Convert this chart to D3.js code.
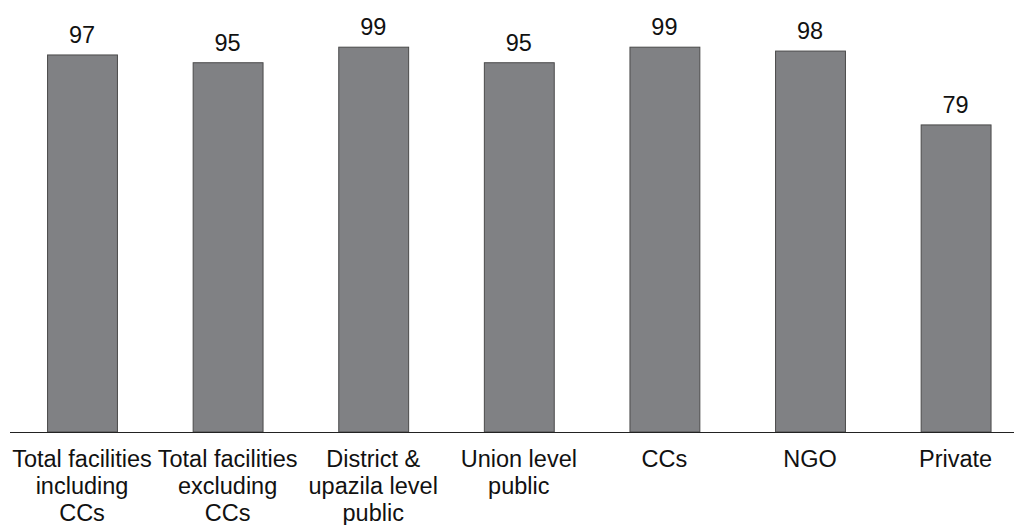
<!DOCTYPE html>
<html>
<head>
<meta charset="utf-8">
<script src="https://cdn.jsdelivr.net/npm/d3@7"></script>
<style>
  html, body { margin: 0; padding: 0; background: #fff; }
  svg { display: block; }
  text { font-family: "Liberation Sans", Arial, sans-serif; fill: #111; }
</style>
</head>
<body>
<svg id="chart" width="1014" height="525"></svg>
<script>
const categories = [
  "Total facilities\nincluding\nCCs",
  "Total facilities\nexcluding\nCCs",
  "District &\nupazila level\npublic",
  "Union level\npublic",
  "CCs",
  "NGO",
  "Private"
];
const values = [97, 95, 99, 95, 99, 98, 79];

const W = 1014, H = 525;
const svg = d3.select("#chart");

const x = d3.scaleBand()
  .domain(categories)
  .range([9.2, 1028.4])
  .paddingInner(0.52)
  .paddingOuter(0.26);

const y = d3.scaleLinear()
  .domain([0, 100])
  .range([432, 43.3]);

// bars
svg.append("g")
  .selectAll("rect")
  .data(values)
  .join("rect")
  .attr("x", (d, i) => x(categories[i]) + 0.5)
  .attr("y", d => y(d))
  .attr("width", x.bandwidth())
  .attr("height", d => y(0) - y(d))
  .attr("fill", "#808184")
  .attr("stroke", "#4a4a4a")
  .attr("stroke-width", 1);

// value labels
svg.append("g")
  .selectAll("text")
  .data(values)
  .join("text")
  .attr("x", (d, i) => x(categories[i]) + x.bandwidth() / 2)
  .attr("y", d => y(d) - 11.7)
  .attr("text-anchor", "middle")
  .style("font-size", "23.5px")
  .text(d => d);

// axis
const axis = d3.axisBottom(x).tickSize(0).tickPadding(0).tickFormat("");
const gAxis = svg.append("g")
  .attr("transform", `translate(0,${y(0) + 0.5})`)
  .call(axis);
gAxis.select(".domain")
  .attr("stroke", "#222")
  .attr("stroke-width", 1.2)
  .attr("d", `M10,0H${W}`);

// category labels
const labels = svg.append("g")
  .selectAll("text")
  .data(categories)
  .join("text")
  .attr("text-anchor", "middle")
  .style("font-size", "23.5px")
  .attr("transform", d => `translate(${x(d) + x.bandwidth() / 2},467)`);
labels.selectAll("tspan")
  .data(d => d.split("\n"))
  .join("tspan")
  .attr("x", 0)
  .attr("y", (d, i) => i * 27)
  .text(d => d);
</script>
</body>
</html>
